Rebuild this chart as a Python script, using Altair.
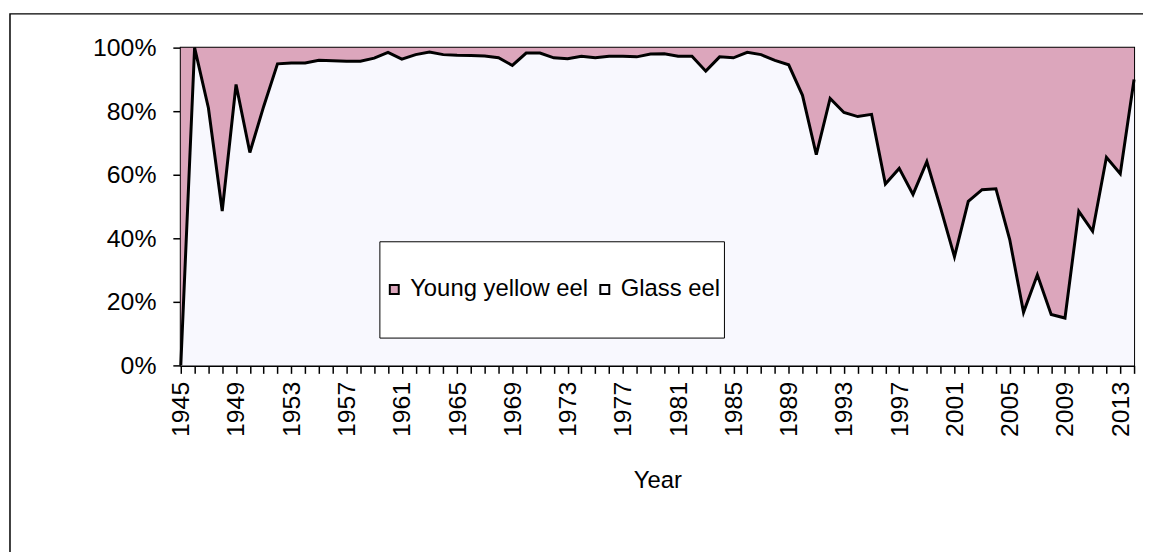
import altair as alt
import pandas as pd

# ---- data ----
years = list(range(1945, 2015))
glass_eel_pct = [
    0, 100, 81, 48.6, 88.4, 67, 81.5, 94.9, 95.2, 95.2,          # 1945-1954
    96, 95.9, 95.7, 95.7, 96.7, 98.5, 96.4, 97.8, 98.6, 97.8,     # 1955-1964
    97.6, 97.5, 97.4, 96.8, 94.4, 98.3, 98.3, 96.8, 96.5, 97.3,   # 1965-1974
    96.8, 97.3, 97.3, 97.1, 98, 98.1, 97.3, 97.3, 92.6, 97.1,     # 1975-1984
    96.8, 98.5, 97.8, 96, 94.6, 85, 66.3, 84, 79.6, 78.3,         # 1985-1994
    79, 57.1, 62, 53.8, 64.1, 49.5, 34.2, 51.6, 55.3, 55.6,       # 1995-2004
    39.6, 16.7, 28.5, 16, 14.9, 48.5, 42.2, 65.5, 60.3, 90,       # 2005-2014
]
series_names = ["Young yellow eel", "Glass eel"]
series_colors = ["#dca6bc", "#f8f8fe"]
y_ticks = [0, 20, 40, 60, 80, 100]
x_ticks = list(range(1945, 2015))

df = pd.DataFrame({"Year": years, "Glass": glass_eel_pct})

FONT = "Liberation Sans"

xenc = alt.X(
    "Year:Q",
    title="Year",
    scale=alt.Scale(domain=[1945, 2014], nice=False, zero=False),
    axis=alt.Axis(
        values=x_ticks,
        format="d",
        labelExpr="(datum.value - 1945) % 4 == 0 ? datum.label : ''",
        labelAngle=270,
        labelFontSize=25,
        labelPadding=8,
        labelOverlap=False,
        labelFlush=False,
        tickSize=8,
        titleFontSize=24,
        titleFontWeight="normal",
        titlePadding=32,
        grid=False,
    ),
)
yscale = alt.Scale(domain=[0, 100], nice=False)
yaxis = alt.Axis(
    values=y_ticks,
    labelExpr="datum.value + '%'",
    labelFontSize=25,
    labelPadding=17,
    tickSize=8,
    title=None,
    grid=False,
)
color_scale = alt.Scale(domain=series_names, range=series_colors)
legend = alt.Legend(
    orient="none",
    legendX=200,
    legendY=195,
    direction="horizontal",
    title=None,
    fillColor="white",
    strokeColor="black",
    padding=3,
    clipHeight=91,
    symbolType="square",
    symbolSize=81,
    symbolStrokeColor="black",
    symbolStrokeWidth=2,
    symbolOpacity=1,
    labelFont=FONT,
    labelFontSize=24,
    labelColor="black",
    labelLimit=400,
    labelOffset=4,
    columnPadding=4,
)

base = alt.Chart(df)

young = base.mark_area(opacity=1, interpolate="linear").transform_calculate(
    series="'Young yellow eel'"
).encode(
    x=xenc,
    y=alt.Y("Glass:Q", scale=yscale, axis=yaxis),
    y2=alt.Y2(datum=100),
    fill=alt.Fill("series:N", scale=color_scale, legend=legend),
)
glass = base.mark_area(opacity=1, interpolate="linear").transform_calculate(
    series="'Glass eel'"
).encode(
    x=xenc,
    y=alt.Y("Glass:Q", scale=yscale, axis=yaxis),
    y2=alt.Y2(datum=0),
    fill=alt.Fill("series:N", scale=color_scale, legend=legend),
)
line = base.mark_line(color="black", strokeWidth=3).encode(
    x=xenc,
    y=alt.Y("Glass:Q", scale=yscale, axis=yaxis),
)
frame = alt.Chart(alt.Data(values=[{}])).mark_rect(
    fill="white", fillOpacity=0, stroke="black", strokeWidth=1.5
).encode(
    x=alt.value(-172), x2=alt.value(1010), y=alt.value(-34), y2=alt.value(530)
)

chart = (
    alt.layer(frame, young, glass, line)
    .properties(
        width=960,
        height=320,
        autosize=alt.AutoSizeParams(type="none"),
        padding={"left": 174, "top": 38, "right": 9, "bottom": 186},
        background="white",
    )
    .configure_axis(
        labelFont=FONT,
        titleFont=FONT,
        labelColor="black",
        titleColor="black",
        domainColor="black",
        domainWidth=2,
        tickColor="black",
        tickWidth=1.5,
    )
    .configure_view(stroke="black", strokeWidth=2)
)

chart.save("out.html", embed_options={"renderer": "svg", "actions": False})
